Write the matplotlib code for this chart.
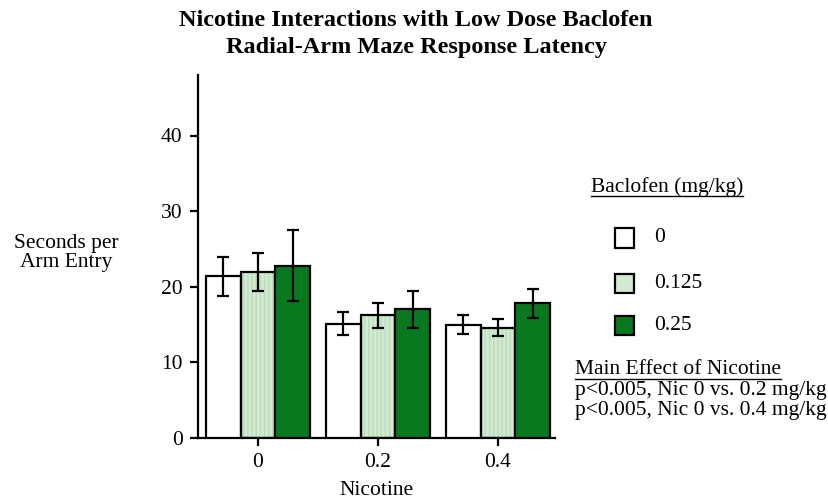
import numpy as np
import matplotlib
matplotlib.use("Agg")
import matplotlib.pyplot as plt
from matplotlib.patches import Rectangle
from matplotlib.lines import Line2D

plt.rcParams['font.family'] = ['Liberation Serif', 'DejaVu Serif']

# ---- data ----
nicotine = ["0", "0.2", "0.4"]
baclofen = ["0", "0.125", "0.25"]
means_b0 = [21.4, 15.1, 15.0]
means_b125 = [22.0, 16.2, 14.6]
means_b25 = [22.8, 17.0, 17.8]
sem_b0 = [2.6, 1.5, 1.3]
sem_b125 = [2.5, 1.7, 1.1]
sem_b25 = [4.7, 2.5, 1.9]
yticks = [0, 10, 20, 30, 40]

means = [means_b0, means_b125, means_b25]
sems = [sem_b0, sem_b125, sem_b25]
faces = ['white', '#d2ead2', '#08791f']
hatches = [None, '||||', None]

fig = plt.figure(figsize=(8.29, 5.0), dpi=100)
ax = fig.add_axes([198/829, 62/500, 357/829, 363/500])

x = np.arange(len(nicotine))
w = 0.288
for i in range(3):
    pos = x + (i - 1) * w
    if hatches[i]:
        ax.bar(pos, means[i], w, color=faces[i], edgecolor='#b9dcb9',
               hatch=hatches[i], linewidth=0, zorder=2)
        ax.bar(pos, means[i], w, facecolor='none', edgecolor='black',
               linewidth=1.6, zorder=3)
    else:
        ax.bar(pos, means[i], w, color=faces[i], edgecolor='black',
               linewidth=1.6, zorder=3)
    ax.errorbar(pos, means[i], yerr=sems[i], fmt='none', ecolor='black',
                elinewidth=1.6, capsize=4, capthick=1.6, zorder=4)

ax.set_xlim(-0.5, 2.475)
ax.set_ylim(0, 48)
ax.set_yticks(yticks)
ax.set_xticks(x)
ax.set_xticklabels(nicotine)
for s in ['top', 'right']:
    ax.spines[s].set_visible(False)
for s in ['left', 'bottom']:
    ax.spines[s].set_linewidth(1.6)
ax.tick_params(axis='both', direction='out', length=6, width=1.6,
               labelsize=15.5, pad=5)
ax.set_xlabel("Nicotine", fontsize=15.5, labelpad=6)

fig.text(66/829, 1 - 253/500, "Seconds per\nArm Entry", ha='center',
         va='center', fontsize=15.5, linespacing=1.0)

fig.text(416/829, 1 - 20/500, "Nicotine Interactions with Low Dose Baclofen",
         ha='center', va='center', fontsize=17.5, fontweight='bold')
fig.text(416/829, 1 - 48/500, "Radial-Arm Maze Response Latency",
         ha='center', va='center', fontsize=17.5, fontweight='bold')

# legend
t_leg = fig.text(591/829, 1 - 187/500, "Baclofen (mg/kg)", ha='left',
                 va='center', fontsize=15.5)
ys = [238, 283, 325]
for i in range(3):
    yc = 1 - ys[i] / 500
    fig.patches.append(Rectangle((615/829, yc - 9.5/500), 19/829, 19/500,
                                 transform=fig.transFigure,
                                 facecolor=faces[i], edgecolor='black',
                                 linewidth=1.6, hatch=None))
    fig.text(654/829, yc, baclofen[i], ha='left', va='center', fontsize=15.5)

t_me = fig.text(575/829, 1 - 370/500, "Main Effect of Nicotine", ha='left',
                va='center', fontsize=15.5)
fig.text(575/829, 1 - 391/500, "p<0.005, Nic 0 vs. 0.2 mg/kg", ha='left',
         va='center', fontsize=15.5)
fig.text(575/829, 1 - 410/500, "p<0.005, Nic 0 vs. 0.4 mg/kg", ha='left',
         va='center', fontsize=15.5)

fig.canvas.draw()
r = fig.canvas.get_renderer()
for t in [t_leg, t_me]:
    bb = t.get_window_extent(r)
    yline = bb.y0 + 1
    fig.lines.append(Line2D([bb.x0 / 829, bb.x1 / 829], [yline / 500, yline / 500],
                            transform=fig.transFigure, color='black', lw=1.0))

fig.savefig("out.png", dpi=100)
